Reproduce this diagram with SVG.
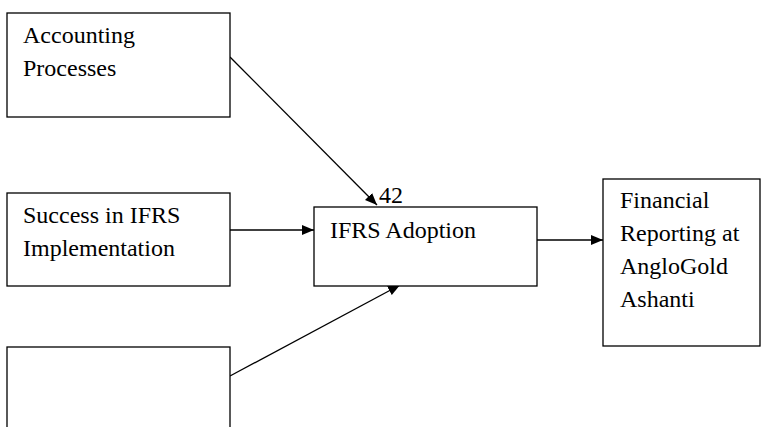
<svg xmlns="http://www.w3.org/2000/svg" width="763" height="427" viewBox="0 0 763 427">
  <style>
    .box { fill: #ffffff; stroke: #000000; stroke-width: 1.3; }
    .lbl { font-family: 'Liberation Serif', 'Times New Roman', Times, 'DejaVu Serif', serif; font-size: 24px; fill: #000000; }
    .edge { stroke: #000000; stroke-width: 1.3; fill: none; marker-end: url(#arrow); }
  </style>
  <defs>
    <marker id="arrow" viewBox="0 0 12 10" refX="12" refY="5" markerWidth="12" markerHeight="10" markerUnits="userSpaceOnUse" orient="auto">
      <path d="M0,0 L12,5 L0,10 Z" fill="#000000"/>
    </marker>
  </defs>
  <rect width="763" height="427" fill="#ffffff"/>

  <g id="connectors">
    <line class="edge" x1="230" y1="57" x2="377" y2="205"/>
    <line class="edge" x1="230" y1="230" x2="314" y2="230"/>
    <line class="edge" x1="230" y1="376" x2="400" y2="285"/>
    <line class="edge" x1="537" y1="240" x2="603" y2="240"/>
  </g>

  <g id="accounting-processes">
    <rect class="box" x="7" y="13" width="223" height="104"/>
    <text class="lbl" x="23" y="43">Accounting</text>
    <text class="lbl" x="23" y="76">Processes</text>
  </g>

  <g id="success-ifrs">
    <rect class="box" x="7" y="193" width="223" height="93"/>
    <text class="lbl" x="23" y="223">Success in IFRS</text>
    <text class="lbl" x="23" y="256">Implementation</text>
  </g>

  <g id="blank-node">
    <rect class="box" x="7" y="347" width="223" height="90"/>
  </g>

  <g id="ifrs-adoption">
    <rect class="box" x="314" y="207" width="223" height="79"/>
    <text class="lbl" x="330" y="238">IFRS Adoption</text>
    <text class="lbl" x="379" y="203">42</text>
  </g>

  <g id="financial-reporting">
    <rect class="box" x="603" y="179" width="157" height="167"/>
    <text class="lbl" x="620" y="208">Financial</text>
    <text class="lbl" x="620" y="241">Reporting at</text>
    <text class="lbl" x="620" y="274">AngloGold</text>
    <text class="lbl" x="620" y="307">Ashanti</text>
  </g>
</svg>
